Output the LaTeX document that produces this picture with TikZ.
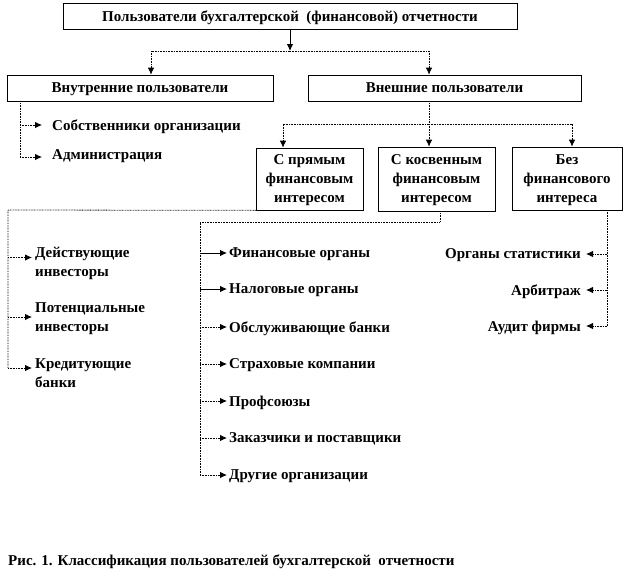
\documentclass[tikz,border=0pt]{standalone}
\usepackage{fontspec}
\setmainfont{Liberation Serif}
\usetikzlibrary{arrows.meta}
\begin{document}
\begin{tikzpicture}[x=1pt,y=-1pt,
  every node/.style={font=\fontsize{15}{19}\selectfont\bfseries,text depth=0pt},
  box/.style={draw=black,line width=0.7pt,fill=white,inner sep=0pt,align=center},
  lbl/.style={inner sep=0pt,align=left},
  arr/.style={-{Latex[length=7pt,width=6.5pt]}},
  dotln/.style={line width=0.8pt,dash pattern=on 0.8pt off 0.8pt},
  solidln/.style={line width=0.8pt}]
\useasboundingbox (0,0) rectangle (628,581);
% boxes
\node[box,minimum width=454pt,minimum height=26pt] (top) at (290,16) {Пользователи бухгалтерской\ \ (финансовой) отчетности};
\node[box,minimum width=266pt,minimum height=26pt] (inner) at (140,88) {Внутренние пользователи};
\node[box,minimum width=273pt,minimum height=26pt] (outer) at (444.5,88) {Внешние пользователи};
\node[box,minimum width=107pt,minimum height=62pt] (b1) at (309.5,179) {С прямым\\финансовым\\интересом};
\node[box,minimum width=117pt,minimum height=64pt] (b2) at (436.5,179) {С косвенным\\финансовым\\интересом};
\node[box,minimum width=110pt,minimum height=63pt] (b3) at (567,178.5) {Без\\финансового\\интереса};
% hubs
\coordinate (hub1) at (290,51);
\coordinate (hub2) at (429,124);
% level 1
\draw[solidln,arr] (top.south) -- (hub1);
\draw[dotln,arr] (hub1) -| ([xshift=11pt]inner.north);
\draw[dotln,arr] (hub1) -| ([xshift=-15.5pt]outer.north);
% level 2
\draw[dotln] ([xshift=-15.5pt]outer.south) -- (hub2);
\draw[dotln,arr] (hub2) -| ([xshift=-26.5pt]b1.north);
\draw[dotln,arr] (hub2) -- (b2.north -| hub2);
\draw[dotln,arr] (hub2) -| ([xshift=5pt]b3.north);
% internal users
\node[lbl,anchor=west] (own) at (52,125) {Собственники организации};
\node[lbl,anchor=west] (adm) at (52,155) {Администрация};
\coordinate (iv) at (20,125);
\coordinate (iv2) at (20,157);
\draw[dotln] ([xshift=-120pt]inner.south) -- (iv2);
\draw[dotln,arr] (iv) -- ([xshift=-10pt]own.west);
\draw[dotln,arr] (iv2) -- ([xshift=-10pt,yshift=-2pt]adm.west);
% direct interest
\node[lbl,anchor=west] (l1) at (35,262) {Действующие\\инвесторы};
\node[lbl,anchor=west] (l2) at (35,317) {Потенциальные\\инвесторы};
\node[lbl,anchor=west] (l3) at (35,373) {Кредитующие\\банки};
\coordinate (lc) at (8,210);
\coordinate (lb) at (8,368);
\draw[dotln] (b1.south west) -- (lc) -- (lb);
\draw[dotln,arr] (l1.west -| lc) ++(0,-4.5) -- ([xshift=-3pt,yshift=4.5pt]l1.west);
\draw[dotln,arr] (l2.west -| lc) -- ([xshift=-3pt]l2.west);
\draw[dotln,arr] (lb) -- ([xshift=-3pt,yshift=5pt]l3.west);
% indirect interest
\node[lbl,anchor=west] (m1) at (229,253) {Финансовые органы};
\node[lbl,anchor=west] (m2) at (229,289) {Налоговые органы};
\node[lbl,anchor=west] (m3) at (229,327) {Обслуживающие банки};
\node[lbl,anchor=west] (m4) at (229,364) {Страховые компании};
\node[lbl,anchor=west] (m5) at (229,401) {Профсоюзы};
\node[lbl,anchor=west] (m6) at (229,438) {Заказчики и поставщики};
\node[lbl,anchor=west] (m7) at (229,475) {Другие организации};
\coordinate (mc) at (440,222);
\coordinate (mt) at (200,222);
\coordinate (mb) at (200,475);
\draw[dotln] (b2.south -| mc) -- (mc) -- (mt) -- (mb);
\draw[solidln,arr] (m1.west -| mt) -- ([xshift=-2pt]m1.west);
\draw[solidln,arr] (m2.west -| mt) -- ([xshift=-2pt]m2.west);
\draw[dotln,arr] (m3.west -| mt) -- ([xshift=-2pt]m3.west);
\draw[dotln,arr] (m4.west -| mt) -- ([xshift=-2pt]m4.west);
\draw[dotln,arr] (m5.west -| mt) -- ([xshift=-2pt]m5.west);
\draw[dotln,arr] (m6.west -| mt) -- ([xshift=-2pt]m6.west);
\draw[dotln,arr] (mb) -- ([xshift=-2pt]m7.west);
% no interest
\node[lbl,anchor=east] (r1) at (581,254) {Органы статистики};
\node[lbl,anchor=east] (r2) at (581,290) {Арбитраж};
\node[lbl,anchor=east] (r3) at (581,326) {Аудит фирмы};
\coordinate (rc) at (607,210);
\coordinate (rb) at (607,326);
\draw[dotln] (rc) -- (rb);
\draw[dotln,arr] (r1.east -| rc) -- ([xshift=5pt]r1.east);
\draw[dotln,arr] (r2.east -| rc) -- ([xshift=5pt]r2.east);
\draw[dotln,arr] (rb) -- ([xshift=5pt]r3.east);
% caption
\node[lbl,anchor=west] (cap) at (8,560) {Рис. 1. Классификация пользователей бухгалтерской\ \ отчетности};
\end{tikzpicture}
\end{document}
